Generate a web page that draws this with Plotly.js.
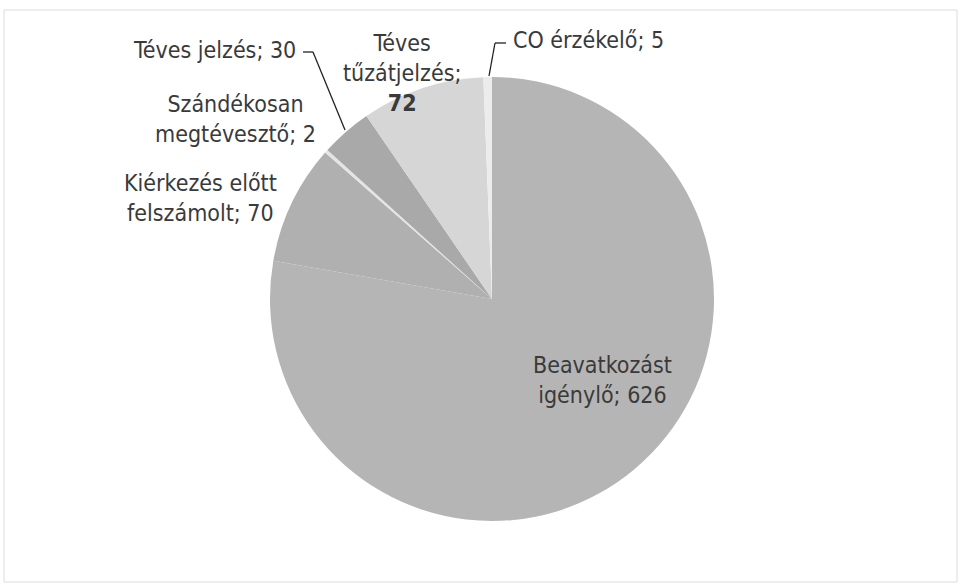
<!DOCTYPE html>
<html>
<head>
<meta charset="utf-8">
<script src="https://cdn.plot.ly/plotly-3.0.1.min.js"></script>
<style>html,body{margin:0;padding:0;background:#fff;}#chart{width:961px;height:586px;}</style>
</head>
<body>
<div id="chart"></div>
<script>
// ---- data ----
const labels = ["Beavatkozást igénylő", "Kiérkezés előtt felszámolt", "Szándékosan megtévesztő", "Téves jelzés", "Téves tűzátjelzés", "CO érzékelő"];
const values = [626, 70, 2, 30, 72, 5];
const labelLines = [["Beavatkozást", "igénylő"], ["Kiérkezés előtt", "felszámolt"], ["Szándékosan", "megtévesztő"], ["Téves jelzés"], ["Téves", "tűzátjelzés"], ["CO érzékelő"]];
const colors = ["#b5b5b5", "#b0b0b0", "#e4e4e4", "#a9a9a9", "#d6d6d6", "#ececec"];

// ---- layout helpers (pixel -> paper) ----
const W = 961, H = 586;
const px = x => x / W, py = y => 1 - y / H;
const FONT = "Liberation Sans Narrow, DejaVu Sans Condensed, Arial Narrow, sans-serif";

// label text built from data
function labelText(i) {
  const lines = labelLines[i].slice();
  if (i === 4) { lines[lines.length - 1] += ";"; lines.push("<b>" + values[i] + "</b>"); }
  else lines[lines.length - 1] += "; " + values[i];
  return lines.join("<br>");
}
// label placement: [center x px, center y px]
const labelPos = [[602, 380], [200, 198], [235, 119], [214, 50], [402, 73], [588, 40]];

const annotations = labels.map((l, i) => ({
  xref: "paper", yref: "paper",
  x: px(labelPos[i][0]), y: py(labelPos[i][1]),
  xanchor: "center", yanchor: "middle",
  text: labelText(i), showarrow: false, align: "center",
  font: {family: FONT, size: 23, color: "#3a3a3a"}
}));

const seg = (x0, y0, x1, y1) => ({type: "line", xref: "paper", yref: "paper",
  x0: px(x0), y0: py(y0), x1: px(x1), y1: py(y1), line: {color: "#222", width: 1.3}});

const shapes = [
  {type: "rect", xref: "paper", yref: "paper", x0: px(4), y0: py(582), x1: px(957), y1: py(10),
   line: {color: "#dcdcdc", width: 1}, fillcolor: "rgba(0,0,0,0)", layer: "below"},
  seg(303, 52, 313, 52), seg(313, 52, 345, 130),
  seg(506, 43, 495, 43), seg(495, 43, 489, 76)
];

const trace = {
  type: "pie", labels: labels, values: values, sort: false,
  direction: "clockwise", rotation: 0,
  marker: {colors: colors, line: {color: "#ffffff", width: 0}},
  textinfo: "none", hoverinfo: "label+value", showlegend: false,
  domain: {x: [px(270), px(714)], y: [py(521), py(77)]}
};

const layout = {
  width: W, height: H, margin: {l: 0, r: 0, t: 0, b: 0},
  paper_bgcolor: "#ffffff", plot_bgcolor: "#ffffff",
  showlegend: false, annotations: annotations, shapes: shapes
};

Plotly.newPlot("chart", [trace], layout, {displayModeBar: false, staticPlot: true});
</script>
</body>
</html>
